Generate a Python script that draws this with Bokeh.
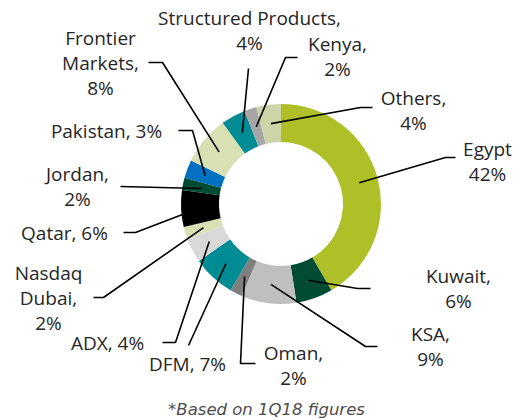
import math
from bokeh.plotting import figure
from bokeh.models import Range1d
from bokeh.core.properties import value
from bokeh.embed import file_html
from bokeh.resources import INLINE

# ---- data (clockwise from 12 o'clock) ----
categories = ["Egypt", "Kuwait", "KSA", "Oman", "DFM", "ADX", "Nasdaq Dubai",
              "Qatar", "Jordan", "Pakistan", "Frontier Markets",
              "Structured Products", "Kenya", "Others"]
shares = [42, 6, 9, 2, 7, 4, 2, 6, 2, 3, 8, 4, 2, 4]
label_lines = [["Egypt", "42%"], ["Kuwait,", "6%"], ["KSA,", "9%"], ["Oman,", "2%"],
               ["DFM, 7%"], ["ADX, 4%"], ["Nasdaq", "Dubai,", "2%"], ["Qatar, 6%"],
               ["Jordan,", "2%"], ["Pakistan, 3%"], ["Frontier", "Markets,", "8%"],
               ["Structured Products,", "4%"], ["Kenya,", "2%"], ["Others,", "4%"]]
footnote = "*Based on 1Q18 figures"

# ---- styles ----
colors = ["#AFBF27", "#004B33", "#BFBFBF", "#7F7F7F", "#008C95", "#D9D9D9", "#D8E0B4",
          "#000000", "#004B33", "#0070C0", "#D8E0B4", "#008C95", "#A6A6A6", "#CDD4A8"]

# layout in page pixels: label center (x, first line y), elbow, end of leader
layout = [
    dict(lx=487, ly=148, elbow=(445, 157), end=(455, 157)),
    dict(lx=458, ly=275, elbow=(357, 288), end=(370, 288)),
    dict(lx=430, ly=333, elbow=(365, 346), end=(377, 346)),
    dict(lx=293, ly=352, elbow=(240, 363), end=(255, 363)),
    dict(lx=187, ly=363, elbow=(188, 345), end=(188, 345)),
    dict(lx=107, ly=342, elbow=(175, 342), end=(162, 342)),
    dict(lx=48, ly=272, elbow=(103, 297), end=(93, 297)),
    dict(lx=64, ly=232, elbow=(135, 232), end=(123, 232)),
    dict(lx=77, ly=173, elbow=(200, 188), end=(120, 186)),
    dict(lx=106, ly=130, elbow=(192, 130), end=(178, 130)),
    dict(lx=100, ly=37, elbow=(162, 62), end=(148, 62)),
    dict(lx=249, ly=17, elbow=(248, 68), end=(248, 68)),
    dict(lx=337, ly=43, elbow=(285, 57), end=(297, 57)),
    dict(lx=413, ly=97, elbow=(360, 107), end=(372, 107)),
]

W, H = 516, 419
def X(ix): return ix
def Y(iy): return H - iy

cx, cy = X(280.5), Y(203.5)
r_in, r_out, r_lead = 62, 100, 81
line_gap = 25

p = figure(width=W, height=H, output_backend="svg", toolbar_location=None,
           x_range=Range1d(0, W), y_range=Range1d(0, H),
           x_axis_location=None, y_axis_location=None, min_border=0)
p.grid.visible = False
p.outline_line_color = None
p.background_fill_color = "white"

total = sum(shares)
starts, ends, mids = [], [], []
cum = 0
for v in shares:
    s = math.pi / 2 - 2 * math.pi * cum / total
    e = math.pi / 2 - 2 * math.pi * (cum + v) / total
    starts.append(s); ends.append(e); mids.append((s + e) / 2)
    cum += v

p.annular_wedge(x=cx, y=cy, inner_radius=r_in, outer_radius=r_out,
                start_angle=starts, end_angle=ends, direction="clock",
                fill_color=colors, line_color=None)

xs, ys = [], []
for m, lay in zip(mids, layout):
    sx = cx + r_lead * math.cos(m)
    sy = cy + r_lead * math.sin(m)
    xs.append([sx, X(lay["elbow"][0]), X(lay["end"][0])])
    ys.append([sy, Y(lay["elbow"][1]), Y(lay["end"][1])])
p.multi_line(xs=xs, ys=ys, line_color="black", line_width=1.6)

tx, ty, tt = [], [], []
for lines, lay in zip(label_lines, layout):
    for i, t in enumerate(lines):
        tx.append(X(lay["lx"])); ty.append(Y(lay["ly"] + i * line_gap)); tt.append(t)
p.text(x=tx, y=ty, text=tt, text_align="center", text_baseline="middle",
       text_font=value("Open Sans"), text_font_size="19px", text_color="#262626")

p.text(x=[X(266)], y=[Y(409)], text=[footnote], text_align="center",
       text_baseline="alphabetic", text_font=value("DejaVu Sans"),
       text_font_style="italic", text_font_size="16.5px", text_color="#4D4D4D")

open("out.html", "w").write(file_html(p, INLINE))
